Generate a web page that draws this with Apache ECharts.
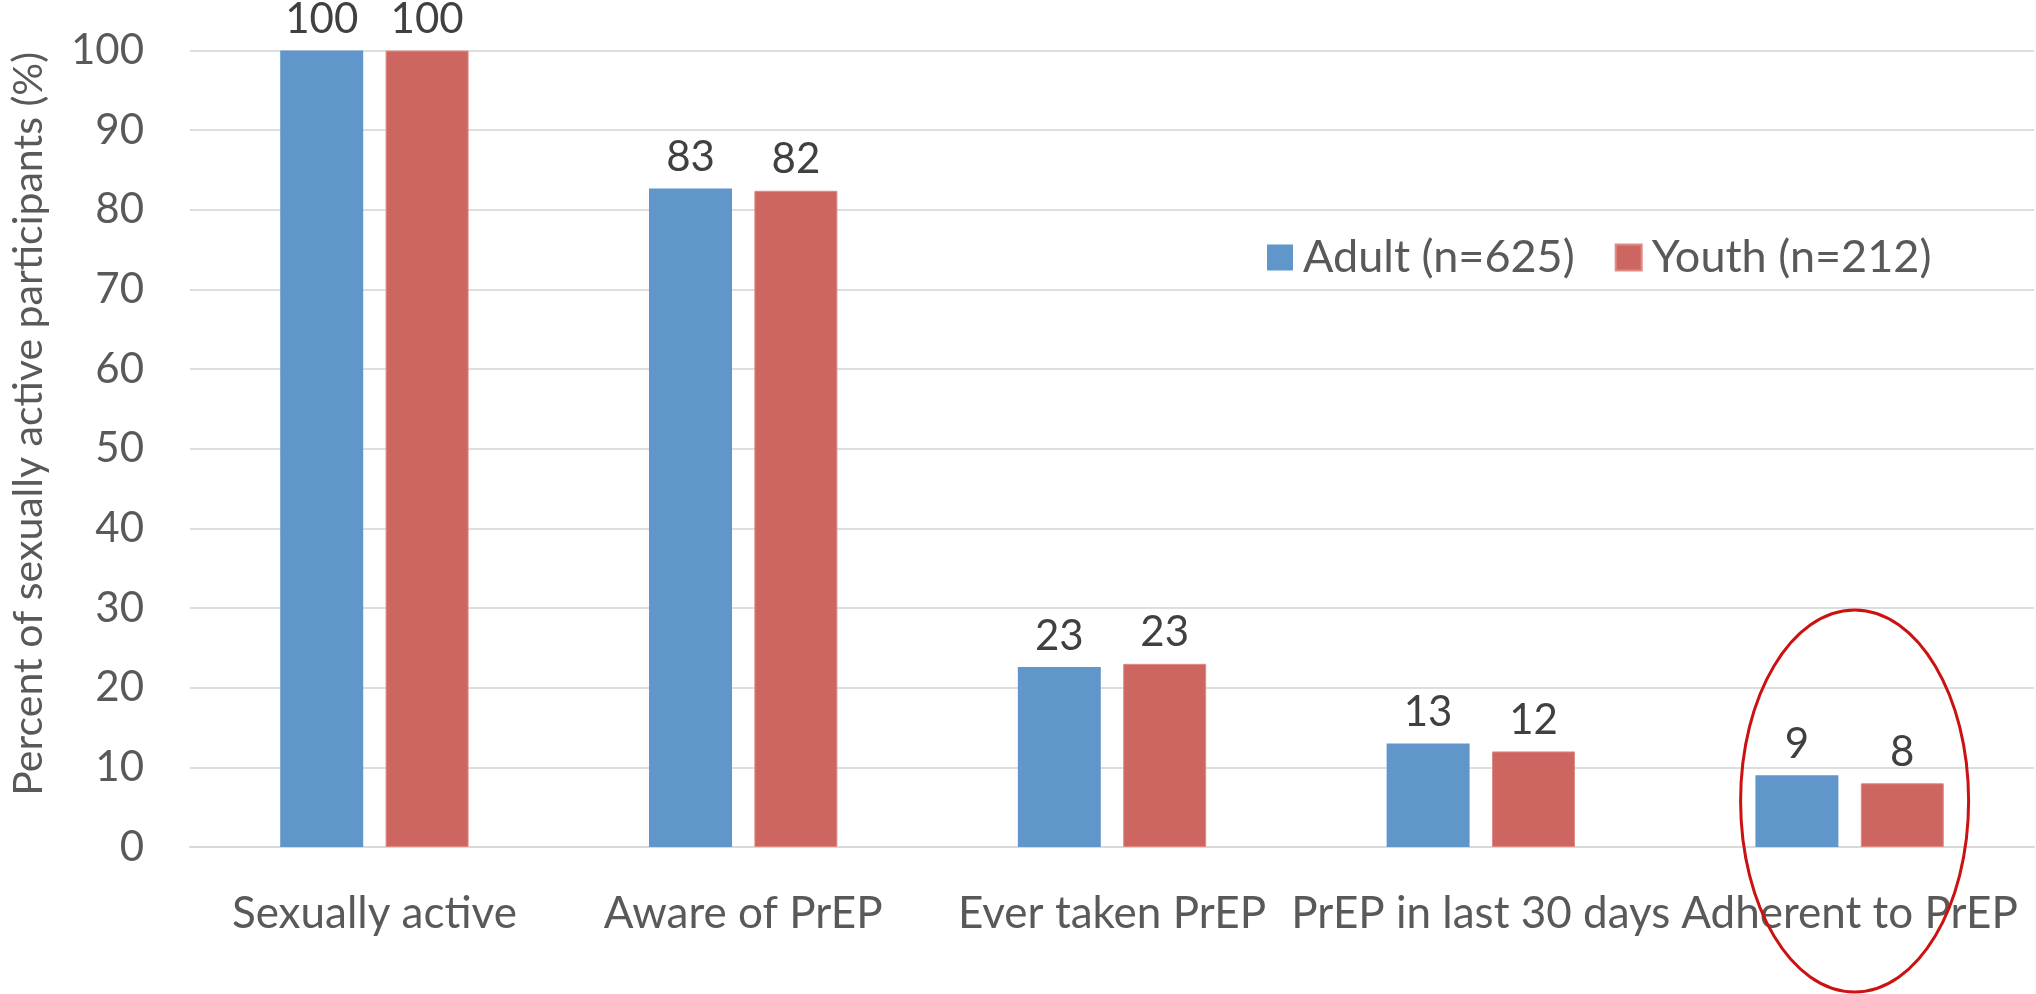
<!DOCTYPE html>
<html>
<head>
<meta charset="utf-8">
<script src="https://cdn.jsdelivr.net/npm/echarts@6/dist/echarts.min.js"></script>
<style>
  html, body { margin: 0; padding: 0; background: #fff; }
  #chart { width: 2036px; height: 994px; }
</style>
</head>
<body>
<div id="chart"></div>
<script>
let categories = ['Sexually active', 'Aware of PrEP', 'Ever taken PrEP', 'PrEP in last 30 days', 'Adherent to PrEP'];
let adult = [100, 82.7, 22.6, 13, 9];
let youth = [100, 82.4, 23, 12, 8];
let seriesNames = ['Adult (n=625)', 'Youth (n=212)'];
let yTicks = { min: 0, max: 100, interval: 10 };

let font = 'Lato, "Open Sans", sans-serif';
let textColor = '#595959';

let barLabel = {
    show: true,
    position: 'top',
    distance: 10,
    color: '#404040',
    fontFamily: font,
    fontSize: 42,
    formatter: p => Math.round(p.value)
};

let option = {
    backgroundColor: '#fff',
    animation: false,
    grid: { left: 190, right: 2, top: 50.6, bottom: 147 },
    legend: {
        left: 1262,
        top: 230,
        itemWidth: 26,
        itemHeight: 26,
        itemGap: 40,
        icon: 'rect',
        textStyle: { color: textColor, fontFamily: font, fontSize: 45, padding: [0, 0, 0, 5] },
        data: seriesNames
    },
    xAxis: {
        type: 'category',
        data: categories,
        axisTick: { show: false },
        axisLine: { lineStyle: { color: '#d9d9d9', width: 2 } },
        axisLabel: { interval: 0, margin: 45, color: textColor, fontFamily: font, fontSize: 44 }
    },
    yAxis: {
        type: 'value',
        min: yTicks.min,
        max: yTicks.max,
        interval: yTicks.interval,
        name: 'Percent of sexually active participants (%)',
        nameLocation: 'middle',
        nameGap: 141,
        nameTextStyle: { color: textColor, fontFamily: font, fontSize: 41, padding: [0, 0, 0, 50] },
        axisLine: { show: false },
        axisTick: { show: false },
        splitLine: { lineStyle: { color: '#dedede', width: 2 } },
        axisLabel: { margin: 46, color: textColor, fontFamily: font, fontSize: 42 }
    },
    series: [
        {
            name: seriesNames[0],
            type: 'bar',
            data: adult,
            barWidth: '22.5%',
            barGap: '27%',
            itemStyle: { color: '#6096c9' },
            label: barLabel
        },
        {
            name: seriesNames[1],
            type: 'bar',
            data: youth,
            barWidth: '22.5%',
            itemStyle: { color: '#cd6660', borderColor: '#e08a85', borderWidth: 1 },
            label: barLabel
        }
    ]
};

let myChart = echarts.init(document.getElementById('chart'));
myChart.setOption(option);

// red ellipse highlighting the last category
let c = myChart.convertToPixel({ xAxisIndex: 0 }, categories[4]);
myChart.setOption({
    graphic: [{
        type: 'ellipse',
        shape: { cx: c + 5, cy: 801, rx: 114, ry: 191 },
        style: { fill: 'none', stroke: '#cc1111', lineWidth: 3 },
        z: 100
    }]
});
</script>
</body>
</html>
